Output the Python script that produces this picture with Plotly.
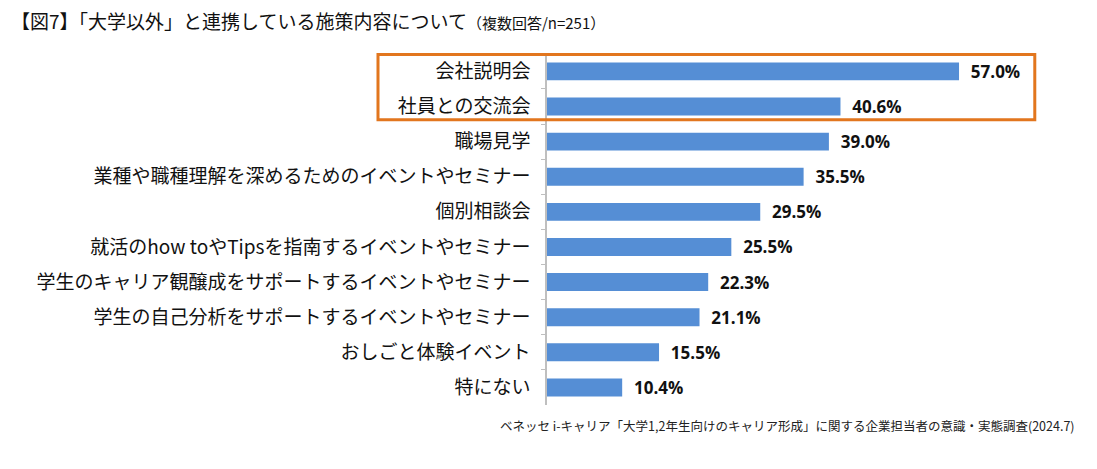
import plotly.graph_objects as go

# categories (top to bottom) and shares (%)
categories = [
    '会社説明会',
    '社員との交流会',
    '職場見学',
    '業種や職種理解を深めるためのイベントやセミナー',
    '個別相談会',
    '就活のhow toやTipsを指南するイベントやセミナー',
    '学生のキャリア観醸成をサポートするイベントやセミナー',
    '学生の自己分析をサポートするイベントやセミナー',
    'おしごと体験イベント',
    '特にない',
]
values = [57.0, 40.6, 39.0, 35.5, 29.5, 25.5, 22.3, 21.1, 15.5, 10.4]

title_main = '【図7】「大学以外」と連携している施策内容について'
title_sub = '（複数回答/n=251）'
source_note = 'ベネッセ i-キャリア「大学1,2年生向けのキャリア形成」に関する企業担当者の意識・実態調査(2024.7)'

jp_font = 'Noto Sans CJK JP'

fig = go.Figure()

fig.add_trace(go.Bar(
    x=values,
    y=categories,
    orientation='h',
    marker=dict(color='#558ED5', line=dict(width=0)),
    texttemplate='  %{x:.1f}%',
    textposition='outside',
    constraintext='none',
    textfont=dict(family='Open Sans', size=17, color='#111111', weight='bold'),
    cliponaxis=False,
    showlegend=False,
    hoverinfo='skip'
))

# orange highlight round the first two categories
fig.add_shape(
    type='rect',
    xref='paper', yref='y',
    x0=-0.334, x1=0.964,
    y0=-0.48, y1=1.38,
    line=dict(color='#E2761E', width=3),
    fillcolor='rgba(0,0,0,0)',
    layer='above'
)

fig.update_layout(
    width=1097,
    height=469,
    margin=dict(l=539, r=52, t=45, b=72),
    plot_bgcolor='white',
    paper_bgcolor='white',
    bargap=0.49,
    font=dict(family=jp_font, color='#111111'),
    xaxis=dict(
        range=[0, 70],
        showgrid=False,
        zeroline=False,
        showticklabels=False,
        showline=False,
        ticks=''
    ),
    yaxis=dict(
        categoryorder='array',
        categoryarray=categories,
        autorange='reversed',
        showgrid=False,
        showline=True,
        linecolor='#BFBFBF',
        linewidth=1.5,
        ticks='outside',
        tickson='boundaries',
        ticklen=4,
        tickcolor='#BFBFBF',
        tickfont=dict(family=jp_font, size=19, color='#111111'),
        ticklabelstandoff=11
    ),
    annotations=[
        dict(
            text=f'{title_main}<span style="font-size:15px">{title_sub}</span>',
            xref='paper', yref='paper',
            x=-1.062, y=1.0,
            xanchor='left', yanchor='bottom',
            yshift=18,
            borderpad=0,
            showarrow=False,
            font=dict(family=jp_font, size=19, color='#111111')
        ),
        dict(
            text=source_note,
            xref='paper', yref='paper',
            x=1.047, y=0,
            xanchor='right', yanchor='top',
            yshift=-9,
            showarrow=False,
            font=dict(family=jp_font, size=12.5, color='#222222')
        ),
    ]
)

fig.write_html("out.html")
